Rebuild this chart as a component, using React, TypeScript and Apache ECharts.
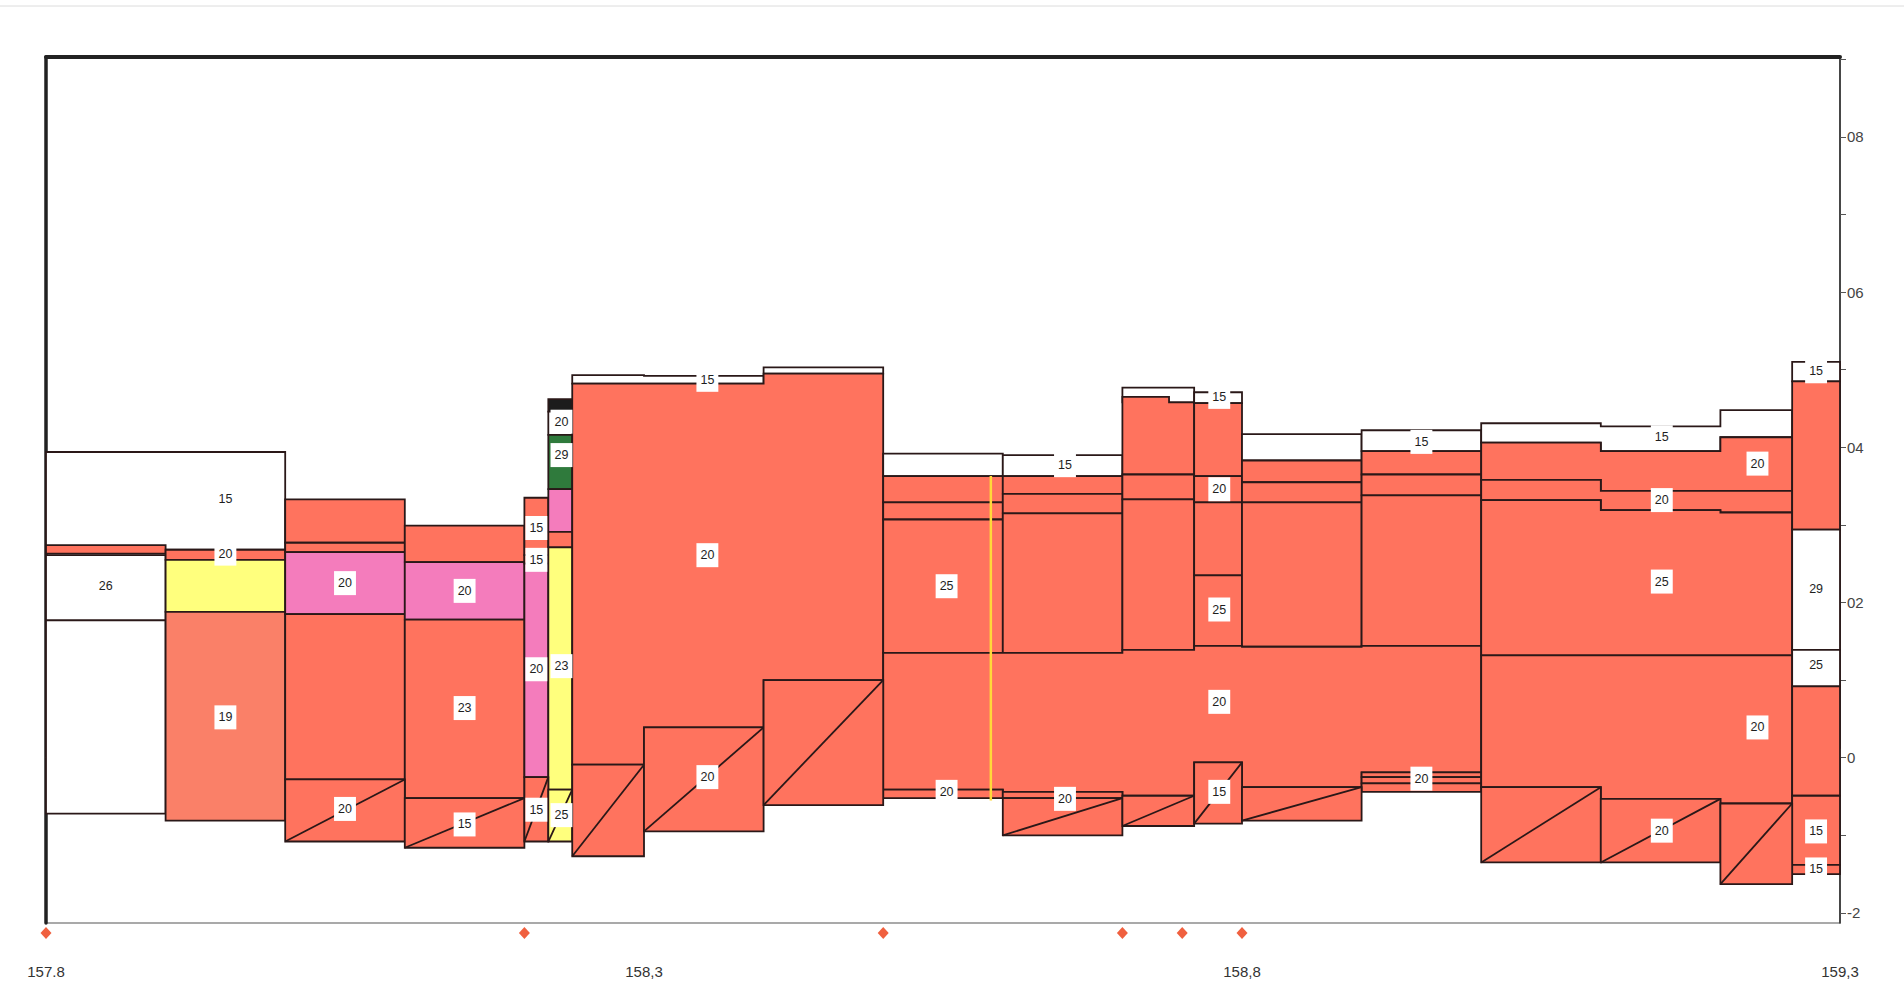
import React, { useEffect, useRef } from "react";
import * as echarts from "echarts";

// ---- axis data ----
const kmMin = 157.8;
const kmMax = 159.3;
const levelMin = -0.213;
const levelMax = 0.903;
const xTickValues = [157.8, 158.3, 158.8, 159.3];
const xTickLabels = ["157.8", "158,3", "158,8", "159,3"];
const yTickValues = [0.8, 0.6, 0.4, 0.2, 0, -0.2];
const yTickLabels = ["08", "06", "04", "02", "0", "-2"];

// ---- point markers below the profile (km) ----
const markerKm = [157.8, 158.2, 158.5, 158.7, 158.75, 158.8];
const markerLevel = -0.226;

// ---- layers: [km breakpoints, top levels per segment, bottom levels per segment, material] ----
type Layer = [number[], number[], number[], string];
const layers: Layer[] = [
  // 157.8 - 158.0
  [[157.8, 158.0], [0.394], [0.268], "W"],
  [[157.8, 157.9], [0.274], [0.263], "S"],
  [[157.8, 157.9], [0.261], [0.177], "W"],
  [[157.8, 157.9], [0.177], [-0.072], "W"],
  [[157.9, 158.0], [0.268], [0.255], "S"],
  [[157.9, 158.0], [0.255], [0.188], "Y"],
  [[157.9, 158.0], [0.188], [-0.081], "T"],
  // 158.0 - 158.1
  [[158.0, 158.1], [0.333], [0.277], "S"],
  [[158.0, 158.1], [0.277], [0.265], "S"],
  [[158.0, 158.1], [0.265], [0.185], "P"],
  [[158.0, 158.1], [0.185], [-0.028], "S"],
  // 158.1 - 158.2
  [[158.1, 158.2], [0.299], [0.252], "S"],
  [[158.1, 158.2], [0.252], [0.178], "P"],
  [[158.1, 158.2], [0.178], [-0.052], "S"],
  // 158.2 - 158.22
  [[158.2, 158.22], [0.335], [0.261], "S"],
  [[158.2, 158.22], [0.261], [0.25], "S"],
  [[158.2, 158.22], [0.25], [-0.025], "P"],
  // 158.22 - 158.24
  [[158.22, 158.24], [0.462], [0.446], "K"],
  [[158.22, 158.24], [0.446], [0.416], "W"],
  [[158.22, 158.24], [0.416], [0.346], "G"],
  [[158.22, 158.24], [0.346], [0.291], "P"],
  [[158.22, 158.24], [0.291], [0.271], "S"],
  [[158.22, 158.24], [0.271], [-0.041], "Y"],
  // 158.24 - 158.5
  [[158.24, 158.3, 158.4, 158.5], [0.493, 0.492, 0.503], [0.482, 0.482, 0.495], "W"],
  [[158.24, 158.3, 158.4, 158.5], [0.482, 0.482, 0.495], [-0.009, 0.039, 0.1], "S"],
  // 158.5 - 158.6
  [[158.5, 158.6], [0.392], [0.363], "W"],
  [[158.5, 158.6], [0.363], [0.329], "S"],
  [[158.5, 158.6], [0.329], [0.307], "S"],
  [[158.5, 158.6], [0.307], [0.135], "S"],
  // 158.6 - 158.7
  [[158.6, 158.7], [0.39], [0.363], "W"],
  [[158.6, 158.7], [0.363], [0.34], "S"],
  [[158.6, 158.7], [0.34], [0.315], "S"],
  [[158.6, 158.7], [0.315], [0.135], "S"],
  // 158.7 - 158.76
  [[158.7, 158.76], [0.477], [0.458], "W"],
  [[158.7, 158.739, 158.76], [0.465, 0.458], [0.365, 0.365], "S"],
  [[158.7, 158.76], [0.365], [0.333], "S"],
  [[158.7, 158.76], [0.333], [0.139], "S"],
  // 158.76 - 158.8
  [[158.76, 158.8], [0.471], [0.457], "W"],
  [[158.76, 158.8], [0.457], [0.363], "S"],
  [[158.76, 158.8], [0.363], [0.329], "S"],
  [[158.76, 158.8], [0.329], [0.235], "S"],
  [[158.76, 158.8], [0.235], [0.144], "S"],
  // 158.8 - 158.9
  [[158.8, 158.9], [0.417], [0.383], "W"],
  [[158.8, 158.9], [0.383], [0.355], "S"],
  [[158.8, 158.9], [0.355], [0.329], "S"],
  [[158.8, 158.9], [0.329], [0.143], "S"],
  // 158.9 - 159.0
  [[158.9, 159.0], [0.422], [0.395], "W"],
  [[158.9, 159.0], [0.395], [0.365], "S"],
  [[158.9, 159.0], [0.365], [0.338], "S"],
  [[158.9, 159.0], [0.338], [0.144], "S"],
  // base layer 158.5 - 159.0
  [[158.5, 158.6, 158.7, 158.76, 158.8, 158.9, 159.0], [0.135, 0.135, 0.139, 0.144, 0.143, 0.144], [-0.041, -0.044, -0.049, -0.006, -0.038, -0.019], "S"],
  [[158.5, 158.6], [-0.041], [-0.052], "S"],
  [[158.6, 158.7], [-0.044], [-0.052], "S"],
  [[158.9, 159.0], [-0.019], [-0.025], "S"],
  [[158.9, 159.0], [-0.025], [-0.033], "S"],
  [[158.9, 159.0], [-0.033], [-0.044], "S"],
  // 159.0 - 159.26
  [[159.0, 159.1, 159.2, 159.26], [0.431, 0.427, 0.448], [0.406, 0.395, 0.413], "W"],
  [[159.0, 159.1, 159.2, 159.26], [0.406, 0.395, 0.413], [0.358, 0.344, 0.344], "S"],
  [[159.0, 159.1, 159.2, 159.26], [0.358, 0.344, 0.344], [0.332, 0.319, 0.316], "S"],
  [[159.0, 159.1, 159.2, 159.26], [0.332, 0.319, 0.316], [0.132, 0.132, 0.132], "S"],
  [[159.0, 159.1, 159.2, 159.26], [0.132, 0.132, 0.132], [-0.038, -0.053, -0.059], "S"],
  // 159.26 - 159.3
  [[159.26, 159.3], [0.51], [0.485], "W"],
  [[159.26, 159.3], [0.485], [0.294], "S"],
  [[159.26, 159.3], [0.294], [0.139], "W"],
  [[159.26, 159.3], [0.139], [0.092], "W"],
  [[159.26, 159.3], [0.092], [-0.049], "S"],
  [[159.26, 159.3], [-0.049], [-0.138], "S"],
  [[159.26, 159.3], [-0.138], [-0.15], "S"],
];

// ---- wedge (sloped) bottom layers: [km from, km to, top, bottom, material] ----
const wedges: [number, number, number, number, string][] = [
  [158.0, 158.1, -0.028, -0.108, "S"],
  [158.1, 158.2, -0.052, -0.116, "S"],
  [158.2, 158.22, -0.025, -0.108, "S"],
  [158.22, 158.24, -0.041, -0.108, "Y"],
  [158.24, 158.3, -0.009, -0.127, "S"],
  [158.3, 158.4, 0.039, -0.095, "S"],
  [158.4, 158.5, 0.1, -0.061, "S"],
  [158.6, 158.7, -0.052, -0.1, "S"],
  [158.7, 158.76, -0.049, -0.088, "S"],
  [158.76, 158.8, -0.006, -0.085, "S"],
  [158.8, 158.9, -0.038, -0.081, "S"],
  [159.0, 159.1, -0.038, -0.135, "S"],
  [159.1, 159.2, -0.053, -0.135, "S"],
  [159.2, 159.26, -0.059, -0.163, "S"],
];

// ---- thickness labels: [km, level, text] ----
const labels: [number, number, string][] = [
  [157.95, 0.334, "15"],
  [157.85, 0.221, "26"],
  [157.95, 0.263, "20"],
  [157.95, 0.052, "19"],
  [158.05, 0.225, "20"],
  [158.05, -0.066, "20"],
  [158.15, 0.215, "20"],
  [158.15, 0.064, "23"],
  [158.15, -0.086, "15"],
  [158.21, 0.296, "15"],
  [158.21, 0.255, "15"],
  [158.21, 0.114, "20"],
  [158.21, -0.067, "15"],
  [158.231, 0.433, "20"],
  [158.231, 0.39, "29"],
  [158.231, 0.118, "23"],
  [158.231, -0.074, "25"],
  [158.353, 0.487, "15"],
  [158.353, 0.261, "20"],
  [158.353, -0.025, "20"],
  [158.553, 0.221, "25"],
  [158.553, -0.044, "20"],
  [158.652, 0.377, "15"],
  [158.652, -0.053, "20"],
  [158.781, 0.465, "15"],
  [158.781, 0.346, "20"],
  [158.781, 0.191, "25"],
  [158.781, 0.072, "20"],
  [158.781, -0.044, "15"],
  [158.95, 0.407, "15"],
  [158.95, -0.027, "20"],
  [159.151, 0.413, "15"],
  [159.151, 0.332, "20"],
  [159.151, 0.227, "25"],
  [159.151, -0.094, "20"],
  [159.231, 0.379, "20"],
  [159.231, 0.039, "20"],
  [159.28, 0.498, "15"],
  [159.28, 0.218, "29"],
  [159.28, 0.119, "25"],
  [159.28, -0.095, "15"],
  [159.28, -0.144, "15"],
];

// ---- yellow marker line: [km, top, bottom] ----
const yellowLine: [number, number, number] = [158.59, 0.363, -0.055];

const materialColors: Record<string, string> = {
  S: "#ff735e",
  T: "#fa8068",
  P: "#f47cbc",
  Y: "#ffff7d",
  G: "#2f7a3c",
  K: "#1c1c1c",
  W: "#ffffff",
};
const outline = "#2a1818";
const font = "'Liberation Sans', Arial, sans-serif";

export default function App() {
  const ref = useRef<HTMLDivElement>(null);

  useEffect(() => {
    if (!ref.current) return;
    const chart = echarts.init(ref.current, null, { renderer: "svg" });

    const minorX: number[] = [];
    for (let i = 0; i <= 15; i++) minorX.push(Math.round((kmMin + i * 0.1) * 10) / 10);
    const minorY: number[] = [];
    for (let i = -2; i <= 9; i++) minorY.push(i / 10);

    const layerItem = (params: any, api: any) => {
      const [xs, tops, bots, mat] = layers[params.dataIndex];
      const pts: number[][] = [];
      tops.forEach((t, k) => {
        pts.push(api.coord([xs[k], t]));
        pts.push(api.coord([xs[k + 1], t]));
      });
      for (let k = bots.length - 1; k >= 0; k--) {
        pts.push(api.coord([xs[k + 1], bots[k]]));
        pts.push(api.coord([xs[k], bots[k]]));
      }
      return {
        type: "polygon",
        shape: { points: pts },
        style: { fill: materialColors[mat], stroke: outline, lineWidth: 1.8, lineJoin: "miter" },
      };
    };

    const wedgeItem = (params: any, api: any) => {
      const [x0, x1, top, bot, mat] = wedges[params.dataIndex];
      const tl = api.coord([x0, top]);
      const tr = api.coord([x1, top]);
      const br = api.coord([x1, bot]);
      const bl = api.coord([x0, bot]);
      return {
        type: "group",
        children: [
          {
            type: "polygon",
            shape: { points: [tl, tr, br, bl] },
            style: { fill: materialColors[mat], stroke: outline, lineWidth: 1.8 },
          },
          {
            type: "line",
            shape: { x1: bl[0], y1: bl[1], x2: tr[0], y2: tr[1] },
            style: { stroke: outline, lineWidth: 1.8 },
          },
        ],
      };
    };

    const hiddenAxisParts = {
      axisTick: { show: false },
      axisLabel: { show: false },
      splitLine: { show: false },
    };

    chart.setOption({
      animation: false,
      backgroundColor: "#ffffff",
      grid: {
        left: 46,
        right: 64,
        top: 57,
        bottom: 63,
        containLabel: false,
        show: true,
        backgroundColor: "transparent",
        borderColor: "#555",
        borderWidth: 1.2,
      },
      graphic: [
        {
          type: "line",
          shape: { x1: 0, y1: 6, x2: 1904, y2: 6 },
          style: { stroke: "#dcdcdc", lineWidth: 1 },
        },
      ],
      xAxis: [
        {
          type: "value",
          min: kmMin,
          max: kmMax,
          position: "bottom",
          offset: 24,
          axisLine: { show: true, lineStyle: { color: "#d6a49a", width: 1 } },
          axisTick: {
            show: true,
            inside: true,
            length: 9,
            customValues: minorX,
            lineStyle: { color: "#b8b8b8", width: 1 },
          },
          axisLabel: {
            show: true,
            customValues: xTickValues,
            formatter: (v: number) => {
              const i = xTickValues.findIndex((t) => Math.abs(t - v) < 1e-6);
              return i >= 0 ? xTickLabels[i] : "";
            },
            color: "#333",
            fontSize: 15,
            fontFamily: font,
            margin: 17,
          },
          splitLine: { show: false },
        },
        {
          type: "value",
          min: kmMin,
          max: kmMax,
          position: "top",
          offset: 0,
          axisLine: { show: true, onZero: false, lineStyle: { color: "#222", width: 4 } },
          ...hiddenAxisParts,
        },
      ],
      yAxis: [
        {
          type: "value",
          min: levelMin,
          max: levelMax,
          position: "right",
          axisLine: { show: true, onZero: false, lineStyle: { color: "#333", width: 1.6 } },
          axisTick: {
            show: true,
            length: 6,
            customValues: minorY,
            lineStyle: { color: "#555", width: 1 },
          },
          axisLabel: {
            show: true,
            customValues: yTickValues,
            formatter: (v: number) => {
              const i = yTickValues.findIndex((t) => Math.abs(t - v) < 1e-6);
              return i >= 0 ? yTickLabels[i] : "";
            },
            color: "#444",
            fontSize: 15,
            fontFamily: font,
            margin: 7,
          },
          splitLine: { show: false },
        },
        {
          type: "value",
          min: levelMin,
          max: levelMax,
          position: "left",
          axisLine: { show: true, onZero: false, lineStyle: { color: "#222", width: 3.5 } },
          ...hiddenAxisParts,
        },
      ],
      series: [
        {
          type: "custom",
          name: "layers",
          xAxisIndex: 0,
          yAxisIndex: 0,
          silent: true,
          clip: false,
          renderItem: layerItem,
          data: layers.map((l) => [l[0][0], l[1][0]]),
          encode: { x: 0, y: 1 },
          z: 2,
        },
        {
          type: "custom",
          name: "wedges",
          xAxisIndex: 0,
          yAxisIndex: 0,
          silent: true,
          clip: false,
          renderItem: wedgeItem,
          data: wedges.map((w) => [w[0], w[2]]),
          encode: { x: 0, y: 1 },
          z: 3,
        },
        {
          type: "line",
          name: "axis",
          xAxisIndex: 0,
          yAxisIndex: 0,
          silent: true,
          showSymbol: false,
          data: [
            [yellowLine[0], yellowLine[1]],
            [yellowLine[0], yellowLine[2]],
          ],
          lineStyle: { color: "#ffd93a", width: 2.5 },
          z: 4,
        },
        {
          type: "scatter",
          name: "thickness",
          xAxisIndex: 0,
          yAxisIndex: 0,
          silent: true,
          symbolSize: 1,
          itemStyle: { color: "rgba(0,0,0,0)", opacity: 1 },
          data: labels.map((l) => [l[0], l[1], l[2]]),
          label: {
            show: true,
            position: "inside",
            formatter: (p: any) => p.value[2],
            backgroundColor: "#ffffff",
            color: "#1e1e1e",
            opacity: 1,
            fontSize: 12.5,
            fontFamily: font,
            padding: [6, 4, 5, 4],
          },
          z: 6,
        },
        {
          type: "scatter",
          name: "markers",
          xAxisIndex: 0,
          yAxisIndex: 0,
          silent: true,
          clip: false,
          symbol: "diamond",
          symbolSize: [11, 12],
          itemStyle: { color: "#f0603f", opacity: 1 },
          data: markerKm.map((k) => [k, markerLevel]),
          z: 7,
        },
      ],
    });

    return () => chart.dispose();
  }, []);

  return (
    <div
      ref={ref}
      style={{ position: "absolute", left: 0, top: 0, width: 1904, height: 986, background: "#fff" }}
    />
  );
}
